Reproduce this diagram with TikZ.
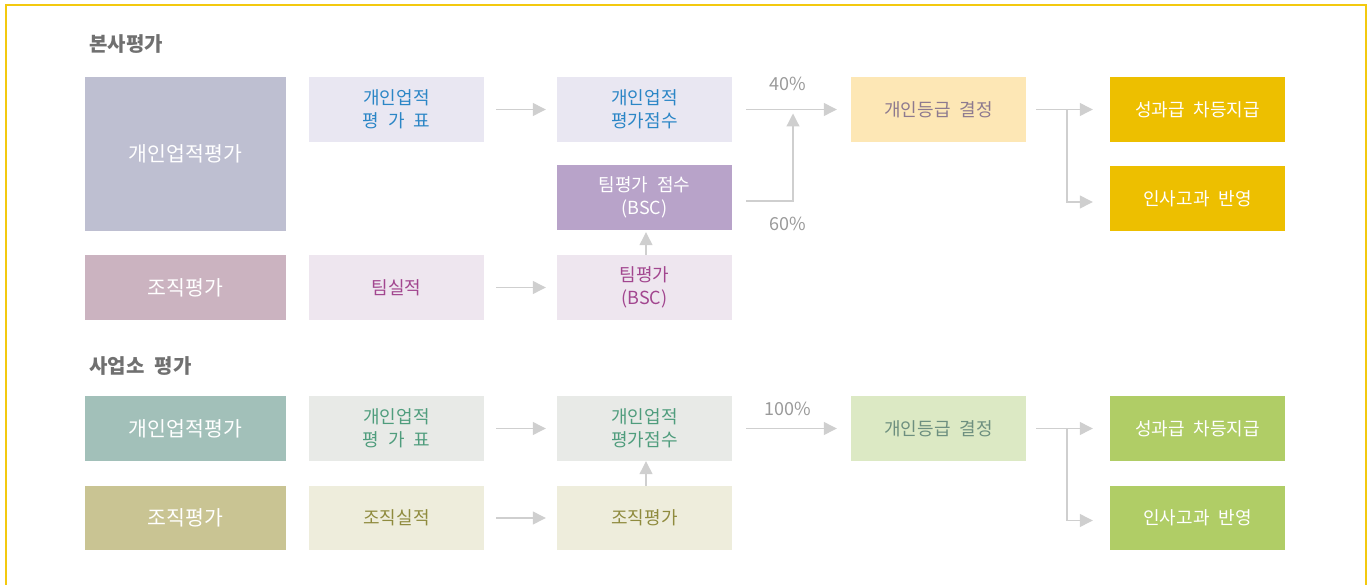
\documentclass[tikz,border=0pt]{standalone}
\usepackage{fontspec}
\setmainfont[WordSpace=2.2]{Noto Sans CJK KR}
\usetikzlibrary{arrows.meta}
\definecolor{framey}{HTML}{F3C90F}
\definecolor{titlegray}{HTML}{707070}
\definecolor{linegray}{HTML}{CFCFCF}
\definecolor{pctgray}{HTML}{9A9A9A}
\definecolor{bigA}{HTML}{BEBFD1}
\definecolor{lavlight}{HTML}{E9E7F2}
\definecolor{bluetext}{HTML}{2B86C6}
\definecolor{gradeA}{HTML}{FDE7B5}
\definecolor{gradeAtext}{HTML}{8D7A8F}
\definecolor{gold}{HTML}{EDBF00}
\definecolor{teamscore}{HTML}{B8A3C9}
\definecolor{orgA}{HTML}{CBB3C0}
\definecolor{pinklight}{HTML}{EEE6EF}
\definecolor{magtext}{HTML}{A2468F}
\definecolor{bigB}{HTML}{A2C0B9}
\definecolor{graylight}{HTML}{E8EAE7}
\definecolor{greentext}{HTML}{4F9D7D}
\definecolor{gradeB}{HTML}{DCE9C4}
\definecolor{gradeBtext}{HTML}{6D8F7F}
\definecolor{leaf}{HTML}{B0CD66}
\definecolor{orgB}{HTML}{C9C493}
\definecolor{olivelight}{HTML}{EEEDDC}
\definecolor{olivetext}{HTML}{8F8B3E}
\begin{document}
\begin{tikzpicture}[x=1pt,y=-1pt,
  box/.style={rectangle, inner sep=0pt, align=center, minimum width=175pt, minimum height=65pt, font=\fontsize{18}{23}\selectfont},
  bigbox/.style={box, minimum width=201pt, text=white, font=\fontsize{20.5}{24}\selectfont},
  conn/.style={draw=linegray, line width=1.2pt},
  arr/.style={conn, -{Triangle[length=13pt,width=13pt]}},
  pct/.style={text=pctgray, font=\fontsize{18}{20}\selectfont},
  sectitle/.style={anchor=west, text=titlegray, font=\fontsize{20}{24}\selectfont\bfseries}]
\useasboundingbox (0,0) rectangle (1368,585);
\draw[draw=framey, line width=1.5pt] (6,620) -- (6,5) -- (1366,5) -- (1366,620);

% ---------- upper section ----------
\node[sectitle] (t1) at (86,44) {본사평가};
\node[bigbox, fill=bigA, minimum height=154pt] (bigA) at (185.5,154) {개인업적평가};
\node[box, fill=lavlight, text=bluetext] (peval1) at (396.5,109.5) {개인업적\\평 가 표};
\node[box, fill=lavlight, text=bluetext] (pscore1) at (644.5,109.5) {개인업적\\평가점수};
\node[box, fill=gradeA, text=gradeAtext] (grade1) at (938.5,109.5) {개인등급 결정};
\node[box, fill=gold, text=white] (pay1) at (1197.5,109.5) {성과급 차등지급};
\node[box, fill=gold, text=white] (hr1) at (1197.5,199) {인사고과 반영};
\node[box, fill=teamscore, text=white] (team1) at (644.5,197.5) {팀평가 점수\\(BSC)};
\node[bigbox, fill=orgA, minimum height=65pt] (orgA) at (185.5,287.5) {조직평가};
\node[box, fill=pinklight, text=magtext] (tperf) at (396.5,287.5) {팀실적};
\node[box, fill=pinklight, text=magtext] (teval) at (644.5,287.5) {팀평가\\(BSC)};

\node[pct] (p40) at (788,84) {40\%};
\node[pct] (p60) at (788,224) {60\%};

\coordinate (j1) at (793,109.5);
\coordinate (b1) at (1067,109.5);

\draw[arr, shorten <=12pt, shorten >=11pt] (peval1) -- (pscore1);
\draw[arr, shorten <=14pt, shorten >=14pt] (pscore1) -- (grade1);
\draw[arr] ([xshift=14pt,yshift=-3.5pt]team1.east) -| ([yshift=-4pt]j1);
\draw[arr, shorten <=12pt, shorten >=11pt] (tperf) -- (teval);
\draw[arr, shorten >=2pt] ([xshift=1.5pt]teval.north) -- ([xshift=1.5pt]team1.south);
\draw[arr] ([xshift=10pt]grade1.east) -- ([xshift=-17pt]pay1.west);
\draw[arr] (b1) |- ([xshift=-17pt,yshift=-3pt]hr1.west);

% ---------- lower section ----------
\node[sectitle] (t2) at (86,366) {사업소 평가};
\node[bigbox, fill=bigB, minimum height=65pt] (bigB) at (185.5,428.5) {개인업적평가};
\node[box, fill=graylight, text=greentext] (peval2) at (396.5,428.5) {개인업적\\평 가 표};
\node[box, fill=graylight, text=greentext] (pscore2) at (644.5,428.5) {개인업적\\평가점수};
\node[box, fill=gradeB, text=gradeBtext] (grade2) at (938.5,428.5) {개인등급 결정};
\node[box, fill=leaf, text=white] (pay2) at (1197.5,428.5) {성과급 차등지급};
\node[box, fill=leaf, text=white, minimum height=64pt] (hr2) at (1197.5,518) {인사고과 반영};
\node[bigbox, fill=orgB, minimum height=64pt] (orgB) at (185.5,518) {조직평가};
\node[box, fill=olivelight, text=olivetext, minimum height=64pt] (operf) at (396.5,518) {조직실적};
\node[box, fill=olivelight, text=olivetext, minimum height=64pt] (oeval) at (644.5,518) {조직평가};

\node[pct] (p100) at (788,409) {100\%};

\coordinate (b2) at (1067,428.5);

\draw[arr, shorten <=12pt, shorten >=11pt] (peval2) -- (pscore2);
\draw[arr, shorten <=14pt, shorten >=14pt] (pscore2) -- (grade2);
\draw[arr, shorten <=12pt, shorten >=11pt] (operf) -- (oeval);
\draw[arr] ([xshift=1.5pt]oeval.north) -- ([xshift=1.5pt]pscore2.south);
\draw[arr] ([xshift=10pt]grade2.east) -- ([xshift=-17pt]pay2.west);
\draw[arr] (b2) |- ([xshift=-17pt,yshift=-2.5pt]hr2.west);
\end{tikzpicture}
\end{document}
